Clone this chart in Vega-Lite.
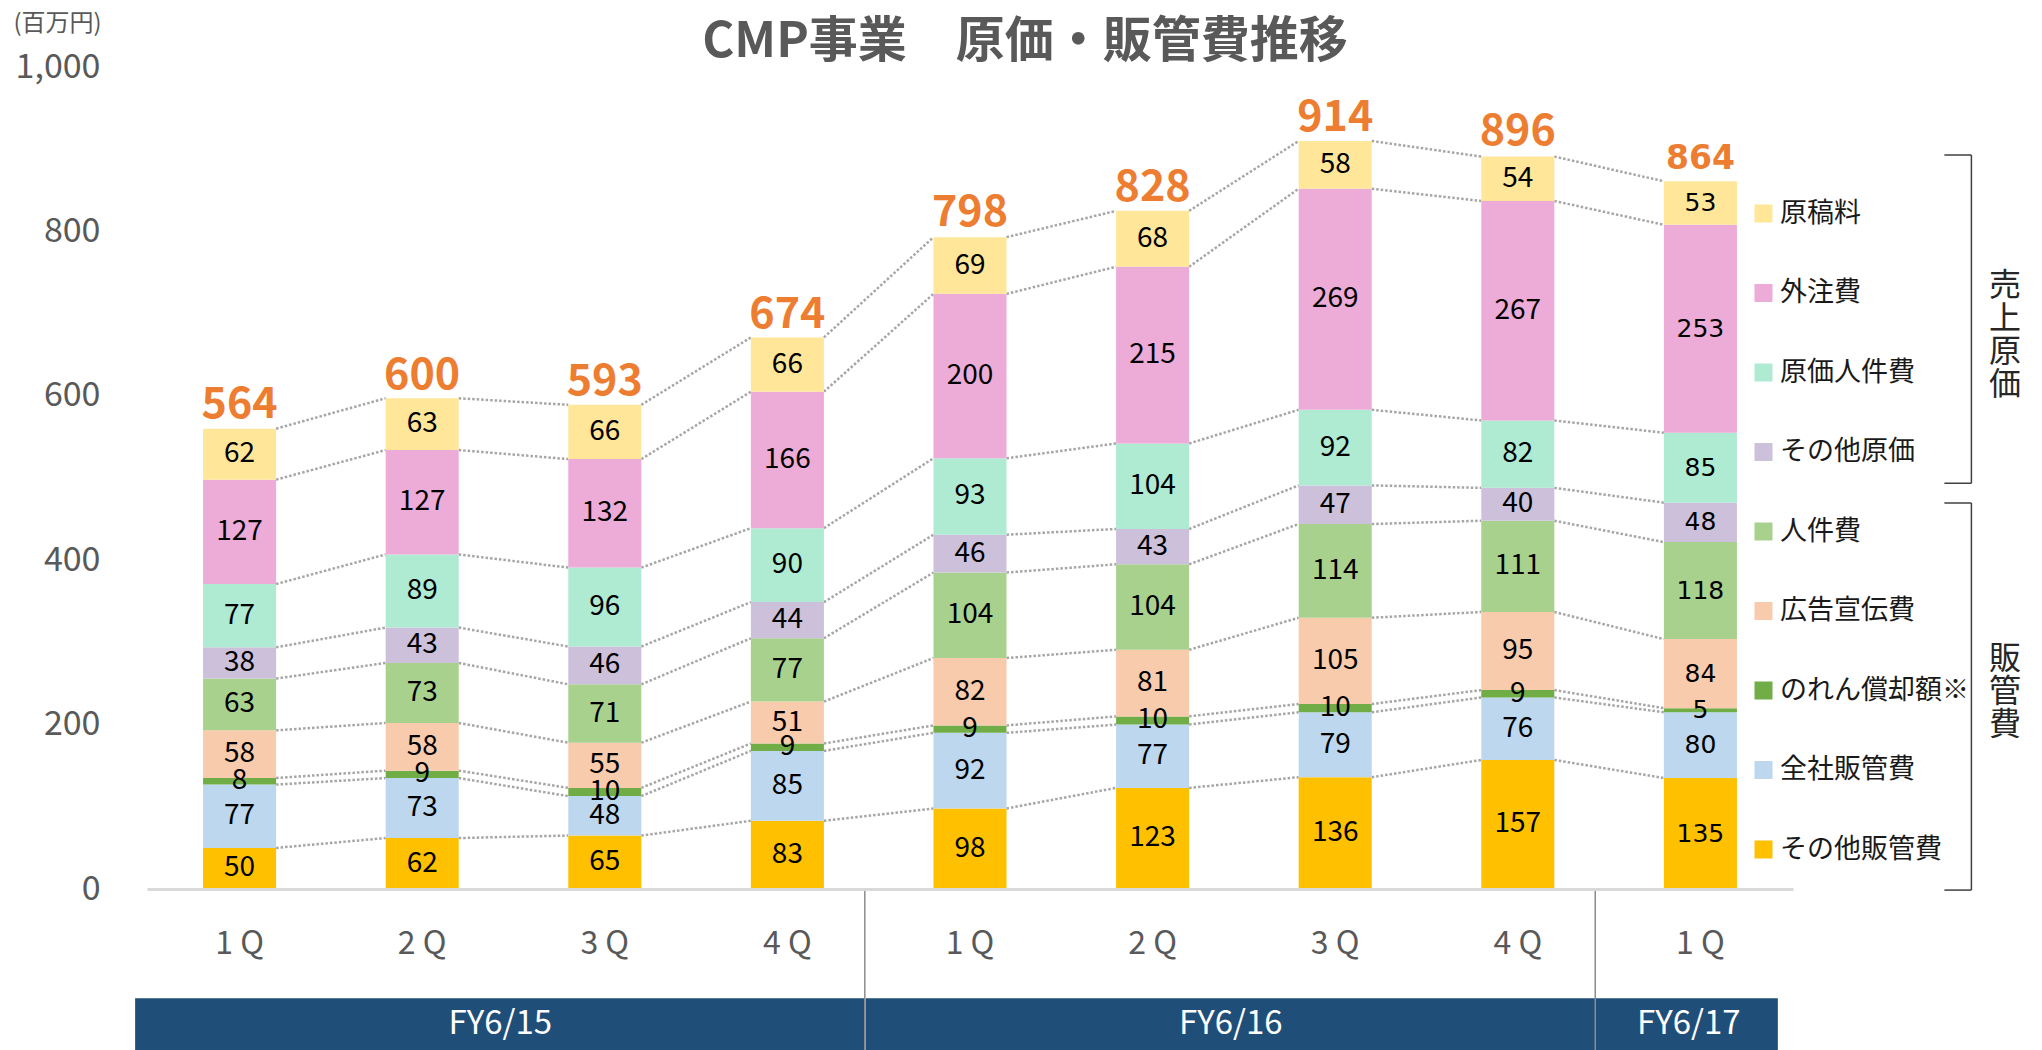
{
  "$schema": "https://vega.github.io/schema/vega-lite/v6.json",
  "width": 1646,
  "height": 822,
  "autosize": {"type": "none"},
  "padding": {"left": 147, "top": 67, "right": 249, "bottom": 161},
  "background": "white",
  "config": {"view": {"stroke": null}, "font": "Noto Sans CJK JP"},
  "title": {"text": "CMP事業　原価・販管費推移", "fontSize": 49, "font": "Noto Sans CJK JP", "fontWeight": "bold", "color": "#595959", "anchor": "middle", "dx": 55, "offset": -56},
  "datasets": {
    "quarters": [
      {"q": "FY6/15 1Q", "その他販管費": 50, "全社販管費": 77, "のれん償却額※": 8, "広告宣伝費": 58, "人件費": 63, "その他原価": 38, "原価人件費": 77, "外注費": 127, "原稿料": 62},
      {"q": "FY6/15 2Q", "その他販管費": 62, "全社販管費": 73, "のれん償却額※": 9, "広告宣伝費": 58, "人件費": 73, "その他原価": 43, "原価人件費": 89, "外注費": 127, "原稿料": 63},
      {"q": "FY6/15 3Q", "その他販管費": 65, "全社販管費": 48, "のれん償却額※": 10, "広告宣伝費": 55, "人件費": 71, "その他原価": 46, "原価人件費": 96, "外注費": 132, "原稿料": 66},
      {"q": "FY6/15 4Q", "その他販管費": 83, "全社販管費": 85, "のれん償却額※": 9, "広告宣伝費": 51, "人件費": 77, "その他原価": 44, "原価人件費": 90, "外注費": 166, "原稿料": 66},
      {"q": "FY6/16 1Q", "その他販管費": 98, "全社販管費": 92, "のれん償却額※": 9, "広告宣伝費": 82, "人件費": 104, "その他原価": 46, "原価人件費": 93, "外注費": 200, "原稿料": 69},
      {"q": "FY6/16 2Q", "その他販管費": 123, "全社販管費": 77, "のれん償却額※": 10, "広告宣伝費": 81, "人件費": 104, "その他原価": 43, "原価人件費": 104, "外注費": 215, "原稿料": 68},
      {"q": "FY6/16 3Q", "その他販管費": 136, "全社販管費": 79, "のれん償却額※": 10, "広告宣伝費": 105, "人件費": 114, "その他原価": 47, "原価人件費": 92, "外注費": 269, "原稿料": 58},
      {"q": "FY6/16 4Q", "その他販管費": 157, "全社販管費": 76, "のれん償却額※": 9, "広告宣伝費": 95, "人件費": 111, "その他原価": 40, "原価人件費": 82, "外注費": 267, "原稿料": 54},
      {"q": "FY6/17 1Q", "その他販管費": 135, "全社販管費": 80, "のれん償却額※": 5, "広告宣伝費": 84, "人件費": 118, "その他原価": 48, "原価人件費": 85, "外注費": 253, "原稿料": 53}
    ],
    "totals": [
      {"q": "FY6/15 1Q", "total": 564},
      {"q": "FY6/15 2Q", "total": 600},
      {"q": "FY6/15 3Q", "total": 593},
      {"q": "FY6/15 4Q", "total": 674},
      {"q": "FY6/16 1Q", "total": 798},
      {"q": "FY6/16 2Q", "total": 828},
      {"q": "FY6/16 3Q", "total": 914},
      {"q": "FY6/16 4Q", "total": 896},
      {"q": "FY6/17 1Q", "total": 864}
    ],
    "fy": [
      {"fy": "FY6/15", "first": "FY6/15 1Q", "mid": "FY6/15 2Q", "last": "FY6/15 4Q"},
      {"fy": "FY6/16", "first": "FY6/16 1Q", "mid": "FY6/16 2Q", "last": "FY6/16 4Q"},
      {"fy": "FY6/17", "first": "FY6/17 1Q", "mid": "FY6/17 1Q", "last": "FY6/17 1Q"}
    ],
    "groups": [
      {"grp": "売上原価", "top": "原稿料", "bottom": "その他原価", "mid": "外注費", "label": "売\n上\n原\n価"},
      {"grp": "販管費", "top": "人件費", "bottom": "その他販管費", "mid": "のれん償却額※", "label": "販\n管\n費"}
    ]
  },
  "resolve": {"scale": {"y": "independent"}, "axis": {"y": "independent"}},
  "layer": [
    {
      "layer": [
        {
          "data": {"name": "fy"},
          "layer": [
            {
              "mark": {"type": "rect", "color": "#1f4e79"},
              "encoding": {
                "x": {"field": "first", "type": "nominal", "bandPosition": -0.93},
                "x2": {"field": "last", "bandPosition": 1.56},
                "y": {"datum": -133, "type": "quantitative", "scale": {"domain": [0, 1000]}},
                "y2": {"datum": -200}
              }
            },
            {
              "transform": [{"filter": "datum.fy !== 'FY6/15'"}],
              "mark": {"type": "rule", "color": "#8c8c8c", "strokeWidth": 1.5},
              "encoding": {
                "x": {"field": "first", "type": "nominal", "bandPosition": -0.94},
                "y": {"datum": 0, "type": "quantitative", "scale": {"domain": [0, 1000]}},
                "y2": {"datum": -200}
              }
            },
            {
              "transform": [{"filter": "datum.fy !== 'FY6/17'"}],
              "mark": {"type": "text", "color": "white", "fontSize": 33, "baseline": "middle", "align": "center"},
              "encoding": {
                "x": {"field": "mid", "type": "nominal", "bandPosition": 1.57},
                "y": {"datum": -164.5, "type": "quantitative", "scale": {"domain": [0, 1000]}},
                "text": {"field": "fy"}
              }
            },
            {
              "transform": [{"filter": "datum.fy === 'FY6/17'"}],
              "mark": {"type": "text", "color": "white", "fontSize": 33, "baseline": "middle", "align": "center"},
              "encoding": {
                "x": {"field": "first", "type": "nominal", "bandPosition": 0.34},
                "y": {"datum": -164.5, "type": "quantitative", "scale": {"domain": [0, 1000]}},
                "text": {"field": "fy"}
              }
            }
          ]
        },
        {
          "data": {"name": "quarters"},
          "transform": [
            {"fold": ["その他販管費", "全社販管費", "のれん償却額※", "広告宣伝費", "人件費", "その他原価", "原価人件費", "外注費", "原稿料"], "as": ["cat", "v"]},
            {"window": [{"op": "row_number", "as": "k"}], "groupby": ["q"]},
            {"stack": "v", "groupby": ["q"], "sort": [{"field": "k", "order": "ascending"}], "as": ["s0", "s1"]}
          ],
          "layer": [
            {
              "transform": [
                {"window": [{"op": "lead", "field": "s1", "as": "n1"}, {"op": "lead", "field": "q", "as": "nq"}], "groupby": ["cat"], "sort": [{"field": "q", "order": "ascending"}]},
                {"filter": "datum.nq != null"}
              ],
              "mark": {"type": "rule", "color": "#a6a6a6", "strokeWidth": 2.5, "strokeDash": [2.5, 2]},
              "encoding": {
                "x": {"field": "q", "type": "nominal", "bandPosition": 1},
                "x2": {"field": "nq", "bandPosition": 0},
                "y": {"field": "s1", "type": "quantitative", "scale": {"domain": [0, 1000]}},
                "y2": {"field": "n1"}
              }
            },
            {
              "mark": {"type": "bar"},
              "encoding": {
                "x": {
                  "field": "q", "type": "nominal",
                  "scale": {"paddingInner": 0.6, "paddingOuter": 0.307},
                  "axis": {"title": null, "bandPosition": 0.5, "domainColor": "#d9d9d9", "domainWidth": 3, "ticks": false, "grid": false, "labelAngle": 0, "labelAlign": "center", "labelExpr": "slice(datum.label, -2, -1) + ' Q'", "labelFontSize": 32, "labelColor": "#595959", "labelPadding": 54, "labelFont": "Noto Sans CJK JP"}
                },
                "y": {
                  "field": "s0", "type": "quantitative",
                  "scale": {"domain": [0, 1000]},
                  "axis": {"values": [0, 200, 400, 600, 800, 1000], "format": ",d", "domain": false, "ticks": false, "labelPadding": 47, "labelFontSize": 34, "labelColor": "#595959", "labelFont": "Noto Sans CJK JP", "gridColor": "#d0d0d0", "gridDash": [2, 2], "gridWidth": 1, "title": "(百万円)", "titleAngle": 0, "titleX": -134, "titleY": -44, "titleAlign": "left", "titleBaseline": "middle", "titleFontSize": 24, "titleFontWeight": "normal", "titleColor": "#595959", "titleFont": "Noto Sans CJK JP"}
                },
                "y2": {"field": "s1"},
                "color": {
                  "field": "cat", "type": "nominal",
                  "scale": {
                    "domain": ["原稿料", "外注費", "原価人件費", "その他原価", "人件費", "広告宣伝費", "のれん償却額※", "全社販管費", "その他販管費"],
                    "range": ["#ffe699", "#edabd8", "#afead3", "#ccc0da", "#a9d18e", "#f8cbad", "#70ad47", "#bdd7ee", "#ffc000"]
                  },
                  "legend": {"orient": "none", "legendX": 1603, "legendY": 133, "title": null, "symbolType": "square", "symbolSize": 324, "symbolStrokeWidth": 0, "symbolOpacity": 1, "labelFont": "Noto Sans CJK JP", "labelFontSize": 27, "labelColor": "#1a1a1a", "rowPadding": 51.5, "labelOffset": 3, "labelLimit": 400, "padding": 0}
                }
              }
            },
            {
              "transform": [{"filter": "datum.q !== 'FY6/17 1Q'"}],
              "mark": {"type": "text", "fontSize": 28, "color": "black", "baseline": "middle"},
              "encoding": {
                "x": {"field": "q", "type": "nominal"},
                "y": {"field": "v", "type": "quantitative", "stack": "zero", "bandPosition": 0.5},
                "order": {"field": "k", "type": "quantitative"},
                "text": {"field": "v"}
              }
            },
            {
              "transform": [{"filter": "datum.q === 'FY6/17 1Q'"}],
              "mark": {"type": "text", "fontSize": 25, "font": "DejaVu Sans", "color": "black", "baseline": "middle"},
              "encoding": {
                "x": {"field": "q", "type": "nominal"},
                "y": {"field": "v", "type": "quantitative", "stack": "zero", "bandPosition": 0.5},
                "order": {"field": "k", "type": "quantitative"},
                "text": {"field": "v"}
              }
            }
          ]
        },
        {
          "data": {"name": "totals"},
          "layer": [
            {
              "transform": [{"filter": "datum.q !== 'FY6/17 1Q'"}],
              "mark": {"type": "text", "fontSize": 43, "fontWeight": "bold", "color": "#ed7d31", "baseline": "middle", "dy": -20},
              "encoding": {
                "x": {"field": "q", "type": "nominal"},
                "y": {"field": "total", "type": "quantitative"},
                "text": {"field": "total"}
              }
            },
            {
              "transform": [{"filter": "datum.q === 'FY6/17 1Q'"}],
              "mark": {"type": "text", "fontSize": 33, "font": "DejaVu Sans", "fontWeight": "bold", "color": "#ed7d31", "baseline": "middle", "dy": -20},
              "encoding": {
                "x": {"field": "q", "type": "nominal"},
                "y": {"field": "total", "type": "quantitative"},
                "text": {"field": "total"}
              }
            }
          ]
        }
      ]
    },
    {
      "data": {"name": "groups"},
      "layer": [
        {
          "transform": [{"filter": "datum.grp === '売上原価'"}],
          "layer": [
            {
              "mark": {"type": "rule", "color": "#404040", "strokeWidth": 1.5},
              "encoding": {
                "x": {"datum": "FY6/17 1Q", "type": "nominal", "bandPosition": 4.21},
                "y": {"field": "top", "type": "nominal", "bandPosition": -0.225, "axis": null, "scale": {"type": "band", "domain": ["原稿料", "外注費", "原価人件費", "その他原価", "人件費", "広告宣伝費", "のれん償却額※", "全社販管費", "その他販管費"], "paddingInner": 0, "paddingOuter": 0.7025, "align": 0.953}},
                "y2": {"field": "bottom", "bandPosition": 0.93}
              }
            },
            {
              "mark": {"type": "rule", "color": "#404040", "strokeWidth": 1.5},
              "encoding": {
                "x": {"datum": "FY6/17 1Q", "type": "nominal", "bandPosition": 3.84},
                "x2": {"datum": "FY6/17 1Q", "bandPosition": 4.21},
                "y": {"field": "top", "type": "nominal", "bandPosition": -0.225}
              }
            },
            {
              "mark": {"type": "rule", "color": "#404040", "strokeWidth": 1.5},
              "encoding": {
                "x": {"datum": "FY6/17 1Q", "type": "nominal", "bandPosition": 3.84},
                "x2": {"datum": "FY6/17 1Q", "bandPosition": 4.21},
                "y": {"field": "bottom", "type": "nominal", "bandPosition": 0.93}
              }
            },
            {
              "mark": {"type": "text", "fontSize": 32, "lineHeight": 33, "lineBreak": "\n", "color": "#262626", "baseline": "middle", "align": "center"},
              "encoding": {
                "x": {"datum": "FY6/17 1Q", "type": "nominal", "bandPosition": 4.67},
                "y": {"field": "mid", "type": "nominal", "bandPosition": 0.43},
                "text": {"field": "label"}
              }
            }
          ]
        },
        {
          "transform": [{"filter": "datum.grp === '販管費'"}],
          "layer": [
            {
              "mark": {"type": "rule", "color": "#404040", "strokeWidth": 1.5},
              "encoding": {
                "x": {"datum": "FY6/17 1Q", "type": "nominal", "bandPosition": 4.21},
                "y": {"field": "top", "type": "nominal", "bandPosition": 0.18},
                "y2": {"field": "bottom", "bandPosition": 1.08}
              }
            },
            {
              "mark": {"type": "rule", "color": "#404040", "strokeWidth": 1.5},
              "encoding": {
                "x": {"datum": "FY6/17 1Q", "type": "nominal", "bandPosition": 3.84},
                "x2": {"datum": "FY6/17 1Q", "bandPosition": 4.21},
                "y": {"field": "top", "type": "nominal", "bandPosition": 0.18}
              }
            },
            {
              "mark": {"type": "rule", "color": "#404040", "strokeWidth": 1.5},
              "encoding": {
                "x": {"datum": "FY6/17 1Q", "type": "nominal", "bandPosition": 3.84},
                "x2": {"datum": "FY6/17 1Q", "bandPosition": 4.21},
                "y": {"field": "bottom", "type": "nominal", "bandPosition": 1.08}
              }
            },
            {
              "mark": {"type": "text", "fontSize": 32, "lineHeight": 33, "lineBreak": "\n", "color": "#262626", "baseline": "middle", "align": "center"},
              "encoding": {
                "x": {"datum": "FY6/17 1Q", "type": "nominal", "bandPosition": 4.67},
                "y": {"field": "mid", "type": "nominal", "bandPosition": 0.15},
                "text": {"field": "label"}
              }
            }
          ]
        }
      ]
    }
  ]
}
